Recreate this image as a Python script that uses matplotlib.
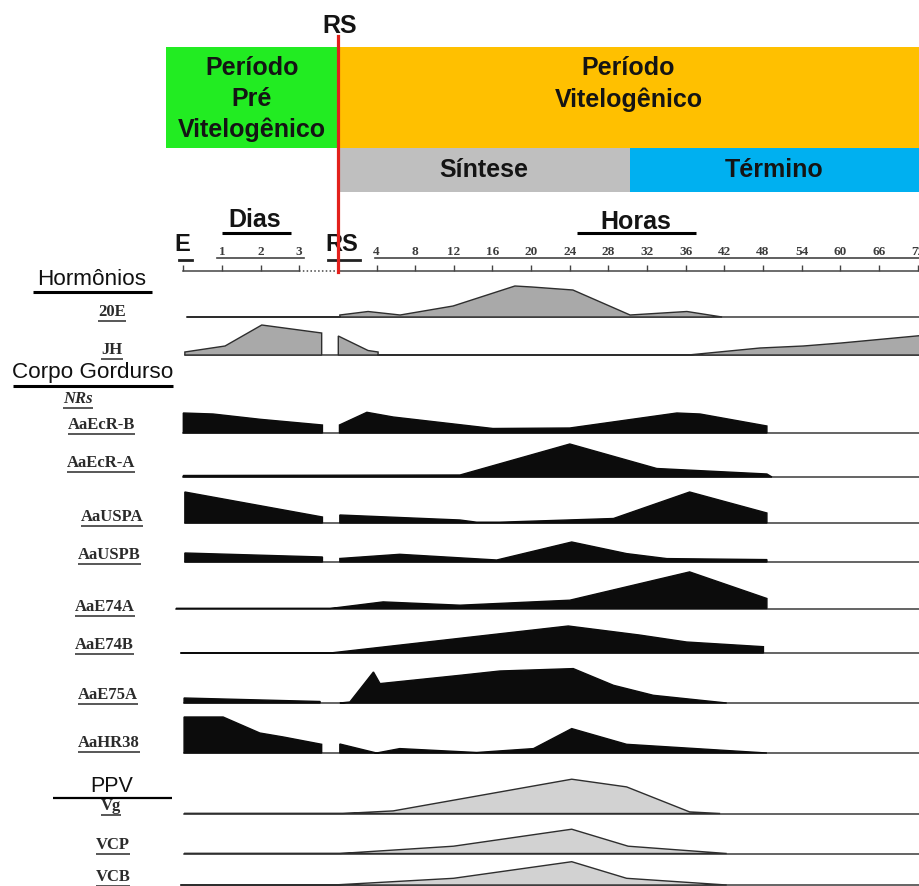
import numpy as np
import matplotlib
matplotlib.use('Agg')
import matplotlib.pyplot as plt
from matplotlib.patches import Rectangle

# --- Data ---
# the time axis is a row of equally spaced ticks; one slot per tick
TICK_LABELS = ['E', '1', '2', '3', 'RS', '4', '8', '12', '16', '20', '24',
               '28', '32', '36', '42', '48', '54', '60', '66', '72']

ROW_NAMES = ['20E', 'JH', 'AaEcR-B', 'AaEcR-A', 'AaUSPA', 'AaUSPB', 'AaE74A',
             'AaE74B', 'AaE75A', 'AaHR38', 'Vg', 'VCP', 'VCB']

# profiles: x = tick slot (0 = E, 4 = RS, 5 = 4 h ... 19 = 72 h), h = level
# np.nan splits a profile where the record is interrupted before RS
X_20E = [0.09, 4.05, 4.05, 4.78, 5.61, 6.98, 8.58, 9.02, 10.08, 11.56, 13.03, 13.94]
H_20E = [0, 0, 2, 5.5, 2, 11, 31, 30, 27, 2, 5.5, 0]

X_JH = [0.04, 1.08, 2.03, 3.58, np.nan, 4.01, 4.78, 5.04, 5.04, 13.06, 14.92, 16.04, 17.02, 19.1]
H_JH = [3, 9, 30, 22, np.nan, 19, 4.5, 3, 0, 0, 7, 9, 12, 19.5]

X_ECRB = [0, 0.77, 1.99, 3.6, np.nan, 4.04, 4.75, 5.43, 8.01, 10.0, 12.77, 13.37, 15.1]
H_ECRB = [20, 19, 13.7, 8, np.nan, 8, 20.7, 16, 4.5, 5, 20, 19, 7]

X_ECRA = [0, 7.16, 10.0, 12.25, 15.1, 15.23]
H_ECRA = [1.5, 2, 33, 8.5, 3, 0]

X_USPA = [0.04, 3.6, np.nan, 4.05, 7.16, 7.59, 8.19, 11.13, 13.1, 15.1]
H_USPA = [31, 6, np.nan, 8, 3, 0.8, 0.8, 4.5, 31, 10]

X_USPB = [0.04, 3.6, np.nan, 4.05, 5.6, 8.11, 10.05, 11.47, 12.51, 15.1]
H_USPB = [9, 5, np.nan, 3.5, 7.7, 2, 20, 8.4, 3.4, 2.4]

X_E74A = [-0.19, 3.8, 5.17, 7.16, 10.0, 13.1, 15.1]
H_E74A = [0, 0, 6.6, 3.3, 8.3, 36.6, 10]

X_E74B = [-0.07, 3.8, 9.96, 11.8, 13.02, 15.01]
H_E74B = [0, 0, 27, 18, 11, 6.3]

X_E75A = [0.02, 3.54, np.nan, 4.05, 4.31, 4.92, 5.09, 7.16, 8.19, 10.09, 11.13, 12.16, 14.06]
H_E75A = [5, 1.5, np.nan, 0, 1, 31, 19.4, 27.7, 32, 34.4, 17.7, 7.7, 0]

X_HR38 = [0.02, 1.03, 1.98, 2.59, 3.58, np.nan, 4.05, 5.0, 5.6, 7.59, 9.06, 10.05, 11.47, 15.1]
H_HR38 = [36, 36, 20, 16, 8.7, np.nan, 9, 0, 4.4, 0.5, 4.4, 24.4, 8.7, 0]

X_VG = [0.02, 4.13, 5.43, 10.05, 11.47, 13.1, 13.89]
H_VG = [0, 0, 2.6, 34.3, 26.6, 1.6, 0]

X_VCP = [0.02, 4.05, 6.99, 10.05, 11.51, 14.06]
H_VCP = [0, 0, 7.3, 24.3, 7.3, 0]

X_VCB = [-0.07, 3.88, 6.99, 10.05, 11.47, 14.06]
H_VCB = [0, 0, 6.7, 23.3, 6.7, 0]

# phases (in tick slots)
RS_SLOT = 4
SINTESE_END = 11.56
PRE_START = -0.45

# --- Layout (pixels) ---
W, H = 919, 886
TICK0_PX, TICK_STEP_PX = 183.3, 38.65
XMIN = -TICK0_PX / TICK_STEP_PX
XMAX = (W - TICK0_PX) / TICK_STEP_PX
ROW_BASE = [317, 355, 433, 477, 523, 562, 608.5, 653, 703, 753, 813.5, 853.5, 885]
LABEL_POS = [(112, 311.7), (112, 350), (101.7, 425), (101.3, 463.3), (112, 516.7),
             (109.5, 555), (105, 606.7), (104.5, 645), (107.8, 695), (108.7, 743.3),
             (111.2, 805.5), (113, 845), (113, 877)]

GREEN, ORANGE, GREY, BLUE = '#22ec22', '#ffc000', '#bfbfbf', '#00b0f0'
RED = '#e3201c'
HORM_FILL, NR_FILL, PPV_FILL = '#a9a9a9', '#0c0c0c', '#d2d2d2'
SANS = 'Liberation Sans'
SERIF = 'Liberation Serif'


def draw_profile(ax, xs, hs, base, face, edge):
    """Filled profile above a baseline; nan entries split it into pieces."""
    xs = np.asarray(xs, float)
    hs = np.asarray(hs, float)
    ax.plot([np.nanmin(xs), XMAX], [base, base], color='#3a3a3a', lw=1.1, zorder=2)
    cuts = np.where(np.isnan(xs))[0]
    for sx, sh in zip(np.split(xs, cuts), np.split(hs, cuts)):
        keep = ~np.isnan(sx)
        sx, sh = sx[keep], sh[keep]
        px = np.concatenate([[sx[0]], sx, [sx[-1]]])
        py = np.concatenate([[base], base - sh, [base]])
        ax.fill(px, py, facecolor=face, edgecolor=edge, lw=1.0, zorder=3)


def underline(fig, lab, txt, pad=1.0, lw=1.3, color='#4a4a4a'):
    r = fig.canvas.get_renderer()
    bb = txt.get_window_extent(renderer=r)
    inv = lab.transData.inverted()
    (x0, y0), (x1, _) = inv.transform([(bb.x0, bb.y0), (bb.x1, bb.y0)])
    lab.plot([x0, x1], [y0 + pad, y0 + pad], color=color, lw=lw, solid_capstyle='butt')


def main():
    fig = plt.figure(figsize=(W / 100, H / 100), dpi=100)
    ax = fig.add_axes([0, 0, 1, 1])
    ax.set_xlim(XMIN, XMAX)
    ax.set_ylim(H, 0)
    ax.axis('off')

    # phase boxes
    ax.add_patch(Rectangle((PRE_START, 46.7), RS_SLOT - PRE_START, 101.6, color=GREEN, lw=0))
    ax.add_patch(Rectangle((RS_SLOT, 46.7), XMAX - RS_SLOT, 101.6, color=ORANGE, lw=0))
    ax.add_patch(Rectangle((RS_SLOT, 148.3), SINTESE_END - RS_SLOT, 43.7, color=GREY, lw=0))
    ax.add_patch(Rectangle((SINTESE_END, 148.3), XMAX - SINTESE_END, 43.7, color=BLUE, lw=0))

    bold = dict(family=SANS, fontweight='bold', color='#141414', ha='center', va='center')
    ax.text((RS_SLOT + PRE_START) / 2, 99, 'Período\nPré\nVitelogênico', fontsize=18,
            linespacing=1.34, **bold)
    ax.text((RS_SLOT + XMAX) / 2, 84, 'Período\nVitelogênico', fontsize=18,
            linespacing=1.34, **bold)
    ax.text((RS_SLOT + SINTESE_END) / 2, 170, 'Síntese', fontsize=18, **bold)
    ax.text((SINTESE_END + XMAX) / 2, 170, 'Término', fontsize=18, **bold)
    ax.text(RS_SLOT + 0.04, 26, 'RS', fontsize=18, **bold)

    # Dias / Horas headers
    ax.text(1.84, 220, 'Dias', fontsize=18, **bold)
    ax.plot([0.99, 2.78], [233.3, 233.3], color='black', lw=2.2, solid_capstyle='butt')
    ax.text(11.71, 221.5, 'Horas', fontsize=18, **bold)
    ax.plot([10.18, 13.27], [232.5, 232.5], color='black', lw=2.2, solid_capstyle='butt')

    # time axis
    slots = np.arange(len(TICK_LABELS))
    axis_y = 270.7
    ax.plot([0, 3], [axis_y, axis_y], color='#444', lw=1.1)
    ax.plot([3, RS_SLOT], [axis_y, axis_y], color='#444', lw=1.1, ls=(0, (1, 1.5)))
    ax.plot([RS_SLOT, XMAX], [axis_y, axis_y], color='#444', lw=1.1)
    ax.vlines(slots[slots != RS_SLOT], 264.5, axis_y, color='#444', lw=1.0)
    for i, name in enumerate(TICK_LABELS):
        if name in ('E', 'RS'):
            ax.text(i + (0.1 if name == 'RS' else -0.02), 244.5, name, fontsize=17, **bold)
        else:
            ax.text(i, 251.5, name, fontsize=9.5, family=SERIF, fontweight='bold',
                    color='#3c3c3c', ha='center', va='center')
    ax.plot([0.86, 3.12], [258.3, 258.3], color='#444', lw=1.2)
    ax.plot([4.96, XMAX], [258.3, 258.3], color='#444', lw=1.2)
    ax.plot([-0.11, 0.22], [260, 260], color='#222', lw=2.0)
    ax.plot([3.75, 4.57], [260, 260], color='#222', lw=2.0)

    # RS marker line
    ax.plot([RS_SLOT + 0.015, RS_SLOT + 0.015], [36, 272], color=RED, lw=2.3, zorder=5)

    # expression profiles
    profiles = [(X_20E, H_20E), (X_JH, H_JH), (X_ECRB, H_ECRB), (X_ECRA, H_ECRA),
                (X_USPA, H_USPA), (X_USPB, H_USPB), (X_E74A, H_E74A), (X_E74B, H_E74B),
                (X_E75A, H_E75A), (X_HR38, H_HR38), (X_VG, H_VG), (X_VCP, H_VCP),
                (X_VCB, H_VCB)]
    for k, (xs, hs) in enumerate(profiles):
        if k < 2:
            face, edge = HORM_FILL, '#2e2e2e'
        elif k < 10:
            face, edge = NR_FILL, NR_FILL
        else:
            face, edge = PPV_FILL, '#2e2e2e'
        draw_profile(ax, xs, hs, ROW_BASE[k], face, edge)

    # left label column, in pixel coordinates
    lab = fig.add_axes([0, 0, 1, 1])
    lab.set_xlim(0, W)
    lab.set_ylim(H, 0)
    lab.axis('off')
    lab.patch.set_alpha(0)

    head = dict(family=SANS, color='#111', ha='center', va='center', fontsize=16.2)
    lab.text(91.7, 279.5, 'Hormônios', **head)
    lab.plot([33.3, 151.7], [291.7, 291.7], color='black', lw=2.2, solid_capstyle='butt')
    lab.text(93, 372.5, 'Corpo Gordurso', **head)
    lab.plot([13.3, 172.7], [385.7, 385.7], color='black', lw=2.2, solid_capstyle='butt')
    lab.text(111.3, 786, 'PPV', family=SANS, color='#111', ha='center', va='center',
             fontsize=15.5)
    lab.plot([52.7, 171.7], [797.7, 797.7], color='black', lw=1.6, solid_capstyle='butt')

    serif = dict(family=SERIF, fontweight='bold', color='#2b2b2b', ha='center',
                 va='center', fontsize=12)
    t = lab.text(78.3, 399.3, 'NRs', style='italic', **serif)
    underline(fig, lab, t)
    for name, (x, y) in zip(ROW_NAMES, LABEL_POS):
        t = lab.text(x, y, name, **serif)
        underline(fig, lab, t)

    fig.savefig('out.png', dpi=100)
    plt.close(fig)


if __name__ == '__main__':
    main()
